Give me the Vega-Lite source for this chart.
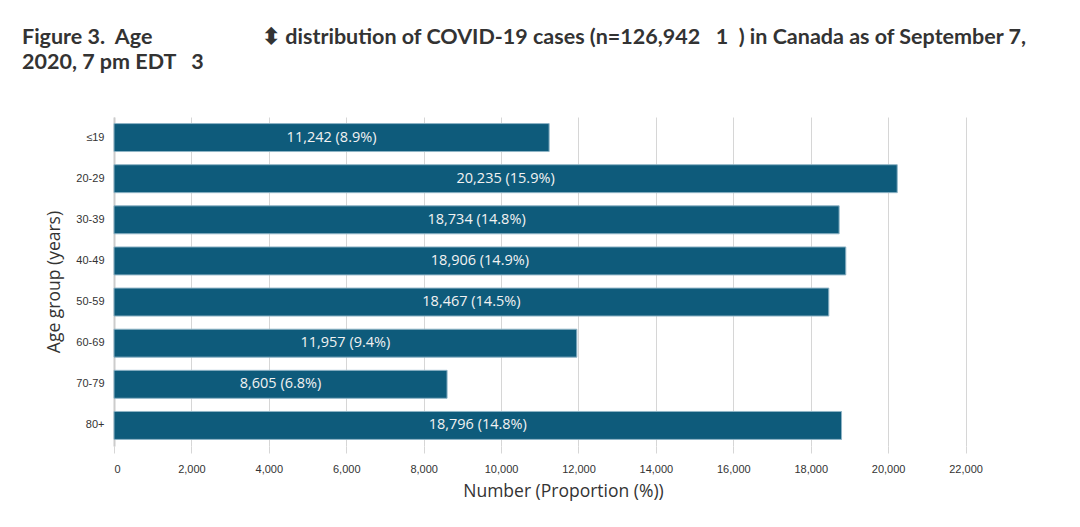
{
  "$schema": "https://vega.github.io/schema/vega-lite/v6.json",
  "autosize": "none",
  "width": 898,
  "height": 329,
  "padding": {"left": 114, "top": 117, "right": 68, "bottom": 81},
  "background": "white",
  "title": {
    "text": [
      "Figure 3.\u00a0\u00a0Age\u00a0\u00a0\u00a0\u00a0\u00a0\u00a0\u00a0\u00a0\u00a0\u00a0\u00a0\u00a0\u00a0\u00a0\u00a0\u00a0\u00a0\u00a0\u00a0\u00a0\u00a0\u2B0D distribution of COVID-19 cases (n=126,942\u00a0\u00a0\u00a01\u00a0\u00a0) in Canada as of September 7,",
      "2020, 7 pm EDT\u00a0\u00a0\u00a03"
    ],
    "anchor": "start",
    "frame": "group",
    "dx": -92,
    "offset": 44,
    "font": "Lato",
    "fontSize": 21.5,
    "fontWeight": "bold",
    "lineHeight": 25,
    "color": "#333333"
  },
  "data": {
    "values": [
      {"age": "\u226419", "value": 11242, "pct": 8.9},
      {"age": "20-29", "value": 20235, "pct": 15.9},
      {"age": "30-39", "value": 18734, "pct": 14.8},
      {"age": "40-49", "value": 18906, "pct": 14.9},
      {"age": "50-59", "value": 18467, "pct": 14.5},
      {"age": "60-69", "value": 11957, "pct": 9.4},
      {"age": "70-79", "value": 8605, "pct": 6.8},
      {"age": "80+", "value": 18796, "pct": 14.8}
    ]
  },
  "transform": [
    {"calculate": "datum.value / 2", "as": "mid"},
    {"calculate": "format(datum.value, ',') + ' (' + format(datum.pct, '.1f') + '%)'", "as": "label"}
  ],
  "encoding": {
    "y": {
      "field": "age",
      "type": "nominal",
      "sort": null,
      "scale": {"paddingInner": 0.32, "paddingOuter": 0.16},
      "axis": {
        "title": "Age group (years)",
        "titleFont": "Open Sans",
        "titleFontSize": 17.5,
        "titleFontWeight": "normal",
        "titleColor": "#333333",
        "titlePadding": 12,
        "labelFont": "Liberation Sans",
        "labelFontSize": 11,
        "labelColor": "#333333",
        "labelPadding": 10,
        "ticks": false,
        "domain": true,
        "domainColor": "#cccccc",
        "domainWidth": 2,
        "grid": false
      }
    }
  },
  "layer": [
    {
      "mark": {"type": "bar", "color": "#0e5b7b", "stroke": "#8fb4c6", "strokeWidth": 1},
      "encoding": {
        "x": {
          "field": "value",
          "type": "quantitative",
          "scale": {"domain": [0, 23200], "nice": false},
          "axis": {
            "title": "Number (Proportion (%))",
            "titleFont": "Open Sans",
            "titleFontSize": 17.5,
            "titleFontWeight": "normal",
            "titleColor": "#333333",
            "titlePadding": 8,
            "values": [0, 2000, 4000, 6000, 8000, 10000, 12000, 14000, 16000, 18000, 20000, 22000],
            "format": ",.0f",
            "labelFont": "Liberation Sans",
            "labelFontSize": 11,
            "labelColor": "#333333",
            "labelPadding": 10,
            "domain": false,
            "ticks": true,
            "tickSize": 7,
            "tickColor": "#d6d6d6",
            "grid": true,
            "gridColor": "#d6d6d6",
            "gridWidth": 1
          }
        }
      }
    },
    {
      "mark": {"type": "text", "font": "Open Sans", "fontSize": 14.5, "color": "#f2f2f2", "align": "center", "baseline": "middle"},
      "encoding": {
        "x": {"field": "mid", "type": "quantitative"},
        "text": {"field": "label", "type": "nominal"}
      }
    }
  ],
  "config": {"view": {"stroke": null}}
}
